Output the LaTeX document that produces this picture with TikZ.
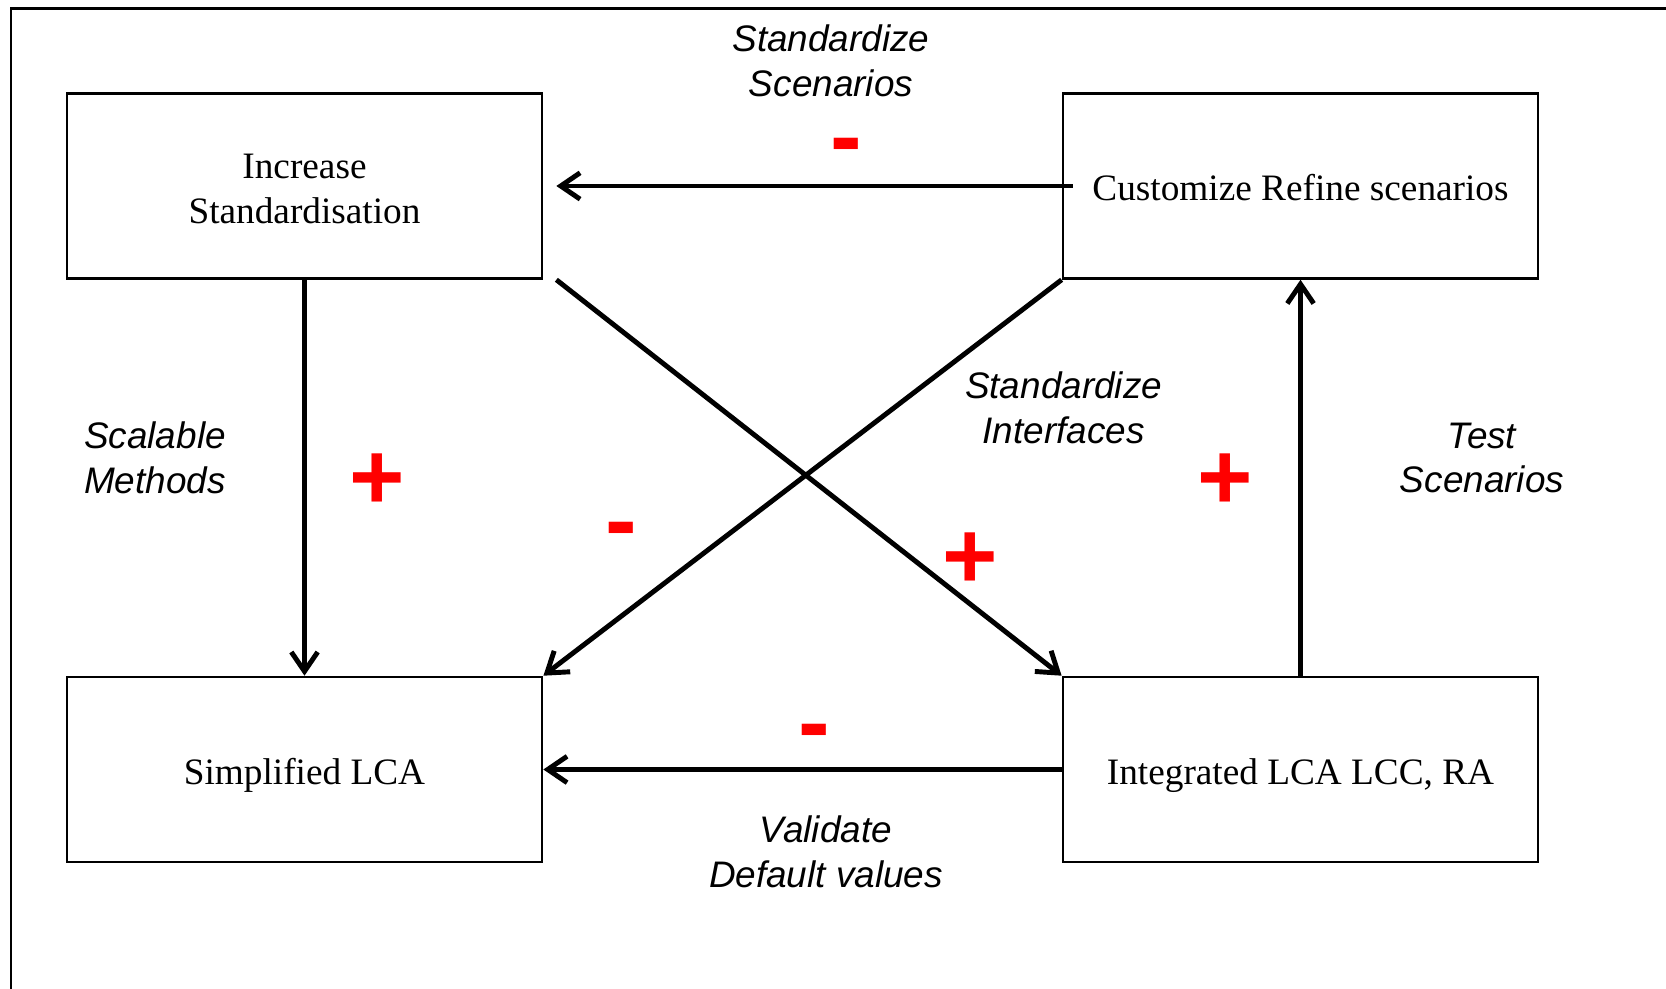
\documentclass[tikz,border=0pt]{standalone}
\usepackage{fontspec}
\setmainfont{Liberation Serif}
\newfontfamily\labelfont{Liberation Sans}
\usetikzlibrary{arrows.meta}
\tikzset{
	block/.style={draw, line width=0.7pt, minimum width=4.75cm, minimum height=1.85cm, inner sep=0pt, align=center, font=\fontsize{10.6}{12.7}\selectfont},
	flow/.style={line width=1.4pt, -{Straight Barb[length=5.5pt,width=7.5pt]}},
	tag/.style={align=center, inner sep=0pt, font=\labelfont\itshape\fontsize{10.5}{12.7}\selectfont},
	sign/.style={text=red, inner sep=0pt, font=\labelfont\bfseries\fontsize{27}{27}\selectfont},
}

\begin{document}
\begin{tikzpicture}[x=0.01cm, y=-0.01cm]
		%%%%% START %%%%%
		\useasboundingbox (0, 0) rectangle (1666, 989);
		
		\draw[line width=0.6pt] (10.6, 989) -- (10.6, 8.5) -- (1666, 8.5);
		
		\node[block, text height=21.5pt] (incr) at (304.5, 186) {Increase\\Standardisation};
		\node[block, text height=8.45pt] (cust) at (1300.5, 186) {Customize Refine scenarios};
		\node[block, text height=10.9pt] (simp) at (304.5, 769.5) {Simplified LCA};
		\node[block, text height=10.9pt] (integ) at (1300.5, 769.5) {Integrated LCA LCC, RA};
		
		\draw[flow] ([xshift=0.11cm]cust.west) -- ([xshift=0.13cm]incr.east);
		\draw[flow] (incr.south) -- (simp.north);
		\draw[flow] ([xshift=0.13cm]incr.south east) -- (integ.north west);
		\draw[flow] (cust.south west) -- (simp.north east);
		\draw[flow] (integ.north) -- (cust.south);
		\draw[flow] (integ.west) -- (simp.east);
		
		\node[tag] (stdscen) at (831, 60.5) {Standardize\\Scenarios};
		\node[tag] (scalmeth) at (155, 458) {Scalable\\Methods};
		\node[tag] (stdintf) at (1063.6, 408) {Standardize\\Interfaces};
		\node[tag] (testscen) at (1482, 458) {Test\\Scenarios};
		\node[tag] (valdef) at (826, 852) {Validate\\Default values};
		
		\node[sign] (m1) at (846, 153) {-};
		\node[sign] (p1) at (377, 482) {+};
		\node[sign] (m2) at (621.6, 537) {-};
		\node[sign] (p2) at (970, 561) {+};
		\node[sign] (p3) at (1225, 482) {+};
		\node[sign] (m3) at (814, 739) {-};
		
		%%%%% END %%%%%
	\end{tikzpicture}
\end{document}
